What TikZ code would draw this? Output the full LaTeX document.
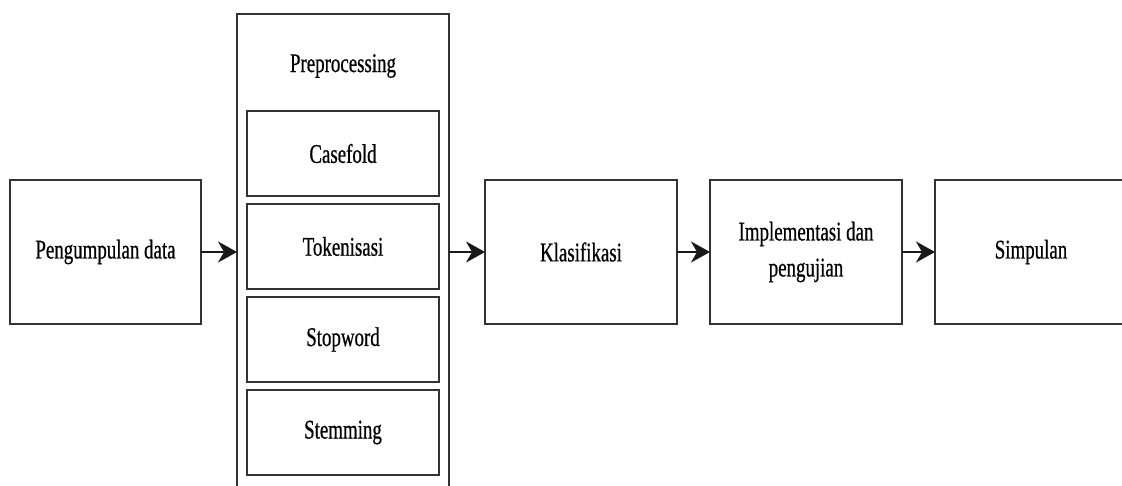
\documentclass[tikz,border=0pt]{standalone}
\usepackage{fontspec}
\setmainfont{Liberation Serif}[FakeStretch=0.7,FakeBold=0.6]
\usetikzlibrary{arrows.meta,positioning}

\begin{document}
\begin{tikzpicture}[x=1pt,y=1pt,>={Stealth[length=19pt,width=21pt,inset=6pt]},
                    line width=2pt,outer sep=0pt,
                    box node/.style={rectangle,draw=black!80,minimum width=192pt,minimum height=144pt,
                                     inner sep=0pt,align=center,font=\fontsize{27}{36}\selectfont},
                    sub node/.style={box node,minimum height=85pt}]
  \useasboundingbox (0,0) rectangle (1122,-486);
  \node[box node,minimum width=191pt] (kumpul) at (105.5,-252) {Pengumpulan data};
  \node[draw=black!80,minimum width=212pt,minimum height=490pt,inner sep=0pt,anchor=north] (prep) at (343,-14) {};
  \node[font=\fontsize{27}{36}\selectfont] (preplabel) at (343,-66) {Preprocessing};
  \node[sub node] (casefold) at (343,-153.5) {Casefold};
  \node[sub node] (token) [below=8pt of casefold] {Tokenisasi};
  \node[sub node] (stopword) [below=8pt of token] {Stopword};
  \node[sub node] (stem) [below=8pt of stopword] {Stemming};
  \node[box node] (klas) at (581,-252) {Klasifikasi};
  \node[box node] (impl) [right=33pt of klas] {Implementasi dan\\pengujian};
  \node[box node] (simpul) [right=33pt of impl] {Simpulan};
  \path[->,color=black!90,line width=2.5pt]
    (kumpul.east) edge (kumpul.east -| prep.west)
    (prep.east |- klas.west) edge (klas.west)
    (klas.east) edge (impl.west)
    (impl.east) edge (simpul.west)
    ;
\end{tikzpicture}
\end{document}
